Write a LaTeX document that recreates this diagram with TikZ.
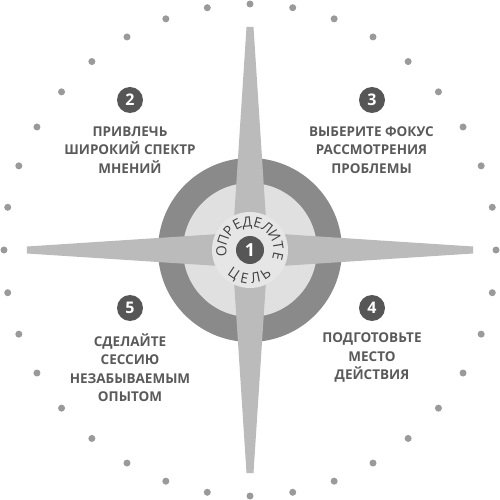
\documentclass[tikz,border=0pt]{standalone}
\usepackage{fontspec}
\setmainfont{Open Sans}
\begin{document}
\begin{tikzpicture}[x=1pt,y=1pt,
  numdisc/.style={circle, fill=numc, minimum size=26, inner sep=0, text=white, font=\bfseries\fontsize{16}{16}\selectfont},
  stepblock/.style={align=center, text=txtc, inner sep=0, font=\bfseries\fontsize{13.5}{18.5}\selectfont},
  arcletter/.style={inner sep=0, text=goalc, text height=10, text depth=0, font=\fontsize{14}{14}\selectfont}]
\definecolor{dotc}{HTML}{9A9A9A}
\definecolor{ringc}{HTML}{8A8A8A}
\definecolor{innerc}{HTML}{E0E0E0}
\definecolor{starc}{HTML}{BBBBBB}
\definecolor{discc}{HTML}{E6E6E6}
\definecolor{numc}{HTML}{565656}
\definecolor{txtc}{HTML}{5A5A5A}
\definecolor{goalc}{HTML}{404040}
\useasboundingbox (-250,-250) rectangle (250,250);
\fill[white] (-250,-250) rectangle (250,250);
\foreach \a in {0,10,...,350} \fill[dotc] (\a:246) circle (3.5);
\node[circle, fill=ringc, minimum size=184, inner sep=0] (ring) at (0,0) {};
\node[circle, fill=innerc, minimum size=134, inner sep=0] (inner) at (0,0) {};
\foreach \r in {0,90,180,270}
  \fill[starc, rotate=\r] (0,-18) -- (223,-3.5) -- (223,3.5) -- (0,18) -- cycle;
\node[circle, fill=discc, minimum size=76, inner sep=0] (goal) at (0,0) {};
\foreach \ch [count=\i from 0] in {О,П,Р,Е,Д,Е,Л,И,Т,Е} {
  \pgfmathsetmacro\ang{182-\i*21.6}
  \node[arcletter, rotate=\ang-90] (top\i) at (\ang:28.5) {\ch};
}
\foreach \ch [count=\i from 0] in {Ц,Е,Л,Ь} {
  \pgfmathsetmacro\ang{236+\i*22.5}
  \node[arcletter, rotate=\ang+90] (bot\i) at (\ang:28.5) {\ch};
}
\node[numdisc, minimum size=28, font=\bfseries\fontsize{18}{18}\selectfont] (n1) at (0,0) {1};
\node[numdisc] (n2) at (-120,150) {2};
\node[numdisc] (n3) at (122,150) {3};
\node[numdisc] (n4) at (122,-58) {4};
\node[numdisc] (n5) at (-120,-58) {5};
\node[stepblock] (s2) at (-120,100) {ПРИВЛЕЧЬ\\ШИРОКИЙ СПЕКТР\\МНЕНИЙ};
\node[stepblock] (s3) at (121.5,100) {ВЫБЕРИТЕ ФОКУС\\РАССМОТРЕНИЯ\\ПРОБЛЕМЫ};
\node[stepblock] (s4) at (122,-108) {ПОДГОТОВЬТЕ\\МЕСТО\\ДЕЙСТВИЯ};
\node[stepblock] (s5) at (-120,-117.5) {СДЕЛАЙТЕ\\СЕССИЮ\\НЕЗАБЫВАЕМЫМ\\ОПЫТОМ};
\end{tikzpicture}
\end{document}
